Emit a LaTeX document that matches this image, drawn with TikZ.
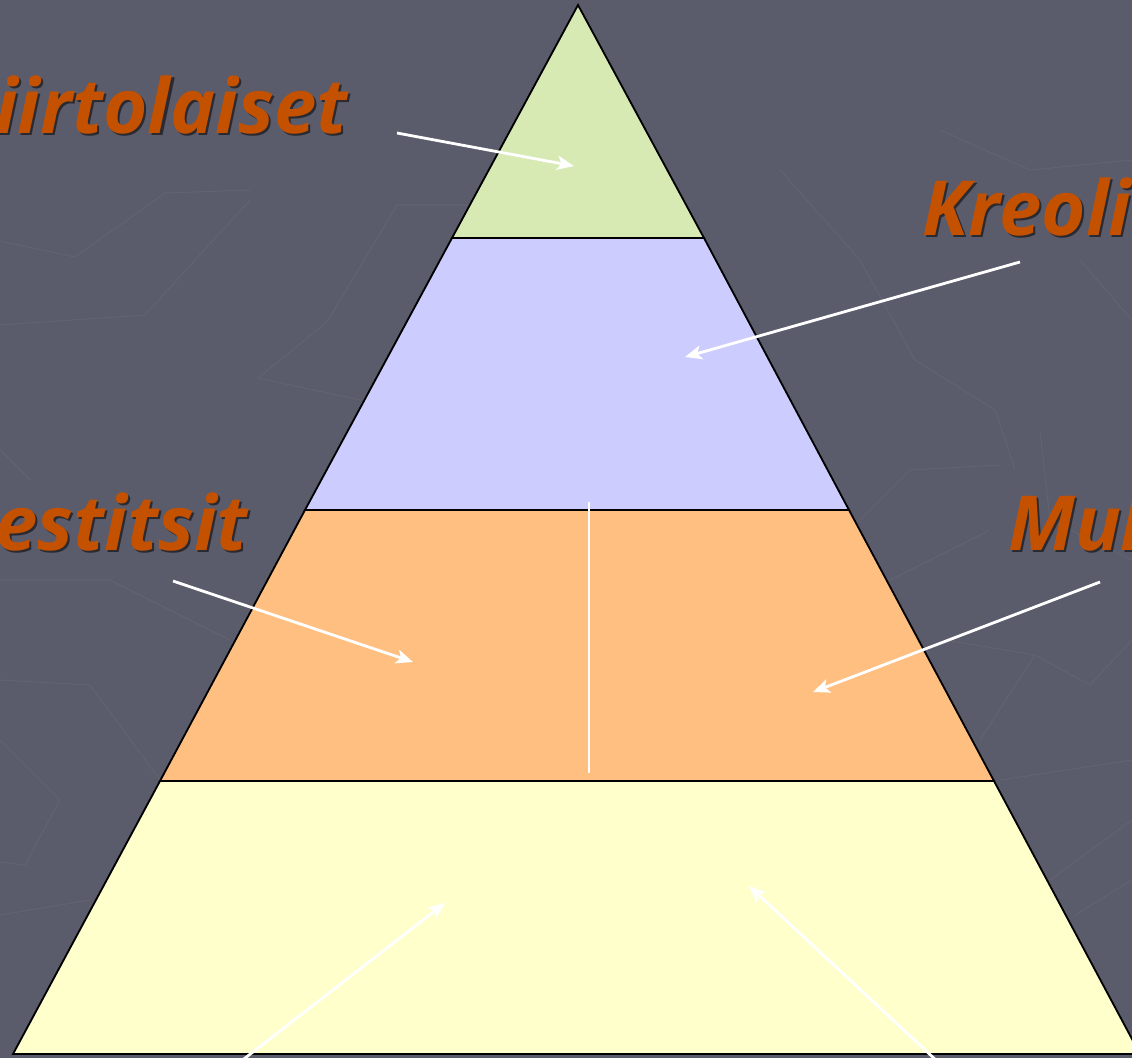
\documentclass[tikz,border=0pt]{standalone}
\usepackage{fontspec}
\usetikzlibrary{arrows.meta}
\newfontfamily\labelfont{Open Sans}
\definecolor{bgcol}{HTML}{5A5B6B}
\definecolor{faint}{HTML}{62636F}
\definecolor{layerA}{HTML}{D8EAB4}
\definecolor{layerB}{HTML}{CCCCFF}
\definecolor{layerC}{HTML}{FFBF80}
\definecolor{layerD}{HTML}{FFFFCC}
\definecolor{labelcol}{HTML}{C45100}
\definecolor{shadowcol}{HTML}{2A2A30}
\newcommand{\shadowtext}[1]{\rlap{\hspace{1.5pt}\raisebox{-1.8pt}{\color{shadowcol}#1}}#1}
\tikzset{
  layer/.style={draw=black, line width=1.3pt, line join=miter},
  pointer/.style={draw=white, line width=2pt, -{Stealth[length=12pt,width=10pt,inset=3pt]}},
  divider/.style={draw=white, line width=2pt},
  bgline/.style={draw=faint, line width=0.8pt},
  lbl/.style={font=\labelfont\bfseries\itshape\fontsize{54}{60}\selectfont, text=labelcol, anchor=base west, inner sep=0pt},
}
\begin{document}
\begin{tikzpicture}[x=0.025cm,y=-0.025cm]
\useasboundingbox (0,0) rectangle (1132,1058);
\clip (0,0) rectangle (1132,1058);
\fill[bgcol] (0,0) rectangle (1132,1058);
% faint background pattern
\draw[bgline] (0,241) -- (75,257) -- (165,193) -- (250,190);
\draw[bgline] (0,325) -- (145,315) -- (250,200);
\draw[bgline] (258,378) -- (327,322) -- (397,205) -- (470,205);
\draw[bgline] (258,378) -- (360,400);
\draw[bgline] (0,450) -- (30,480);
\draw[bgline] (0,580) -- (110,580) -- (230,640);
\draw[bgline] (0,680) -- (90,685) -- (160,780);
\draw[bgline] (0,740) -- (60,800) -- (25,865) -- (0,862);
\draw[bgline] (0,915) -- (90,900);
\draw[bgline] (780,170) -- (860,260) -- (915,360) -- (995,410) -- (1015,470);
\draw[bgline] (940,130) -- (1030,170) -- (1132,160);
\draw[bgline] (1080,260) -- (1132,320);
\draw[bgline] (1040,430) -- (1050,520) -- (1132,560);
\draw[bgline] (860,520) -- (910,470) -- (1000,465);
\draw[bgline] (890,580) -- (990,530);
\draw[bgline] (945,640) -- (1035,655) -- (1090,685) -- (1132,640);
\draw[bgline] (980,740) -- (1035,655);
\draw[bgline] (1000,780) -- (1132,760);
\draw[bgline] (1050,880) -- (1132,820);
\draw[bgline] (1075,915) -- (1132,880);
% pyramid corners
\coordinate (A) at (578,5);
\coordinate (L1) at (452,238); \coordinate (R1) at (704,238);
\coordinate (L2) at (305,510); \coordinate (R2) at (849,510);
\coordinate (L3) at (160,781); \coordinate (R3) at (994,781);
\coordinate (L4) at (13,1054); \coordinate (R4) at (1140,1054);
\path[layer, fill=layerD] (L3) -- (R3) -- (R4) -- (L4) -- cycle;
\path[layer, fill=layerC] (L2) -- (R2) -- (R3) -- (L3) -- cycle;
\path[layer, fill=layerB] (L1) -- (R1) -- (R2) -- (L2) -- cycle;
\path[layer, fill=layerA] (A) -- (R1) -- (L1) -- cycle;
% divider in the orange layer
\coordinate (dtop) at (589,502);
\coordinate (dbot) at (589,773);
\draw[divider] (dtop) -- (dbot);
% labels
\node[lbl] (siirto) at (-5,133) {\shadowtext{iirtolaiset}};
\node[lbl] (kreolit) at (922,235) {\shadowtext{Kreolit}};
\node[lbl] (mestitsit) at (-5,550) {\shadowtext{estitsit}};
\node[lbl] (mulatit) at (1008,550) {\shadowtext{Mul}};
% arrow end points
\coordinate (s1) at (397,133); \coordinate (t1) at (574,166);
\coordinate (s2) at (1020,262); \coordinate (t2) at (685,357);
\coordinate (s3) at (173,581); \coordinate (t3) at (413,662);
\coordinate (s4) at (1100,582); \coordinate (t4) at (813,692);
\coordinate (s5) at (240,1062); \coordinate (t5) at (445,903);
\coordinate (s6) at (938,1062); \coordinate (t6) at (749,886);
\draw[pointer] (s1) -- (t1);
\draw[pointer] (s2) -- (t2);
\draw[pointer] (s3) -- (t3);
\draw[pointer] (s4) -- (t4);
\draw[pointer] (s5) -- (t5);
\draw[pointer] (s6) -- (t6);
\end{tikzpicture}
\end{document}
